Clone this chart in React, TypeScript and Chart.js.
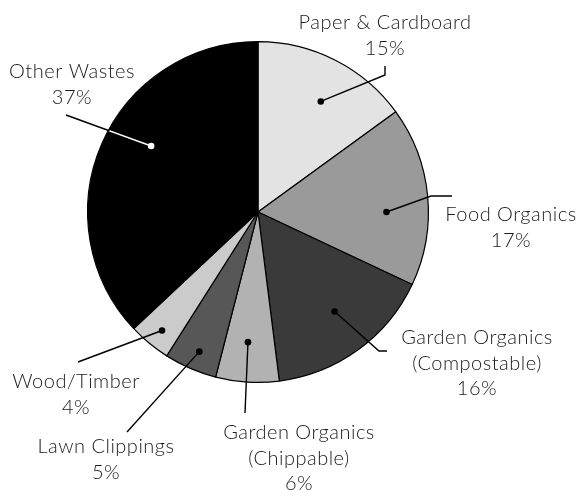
import React, { useEffect, useRef } from "react";
import { Chart, registerables } from "chart.js";

Chart.register(...registerables);

const categories = [
  "Paper & Cardboard",
  "Food Organics",
  "Garden Organics (Compostable)",
  "Garden Organics (Chippable)",
  "Lawn Clippings",
  "Wood/Timber",
  "Other Wastes",
];
const labelLines = [
  ["Paper & Cardboard"],
  ["Food Organics"],
  ["Garden Organics", "(Compostable)"],
  ["Garden Organics", "(Chippable)"],
  ["Lawn Clippings"],
  ["Wood/Timber"],
  ["Other Wastes"],
];
const values = [15, 17, 16, 6, 5, 4, 37];
const colors = ["#e3e3e3", "#9a9a9a", "#3a3a3a", "#b2b2b2", "#575757", "#cbcbcb", "#000000"];

// Annotation layout (relative to pie centre): dot angle tweak (deg), dot radius fraction,
// leader path points, label centre and first line y.
const annot = [
  { da: 2.6, rf: 0.746, path: [[127, -137], [127, -146]], lx: 127, ly: -189 },
  { da: 5.4, rf: 0.754, path: [[173, -16], [194, -16]], lx: 253, ly: 3 },
  { da: -1.6, rf: 0.737, path: [[121, 139], [129, 139]], lx: 219, ly: 126 },
  { da: 0.8, rf: 0.766, path: [[-13, 201]], lx: 41, ly: 221 },
  { da: -0.6, rf: 0.889, path: [[-131, 220]], lx: -152, ly: 235 },
  { da: -0.6, rf: 0.895, path: [[-180, 150]], lx: -182, ly: 170 },
  { da: 8.3, rf: 0.737, path: [[-192, -97]], lx: -186, ly: -140 },
];

const FONT = "300 20px Lato, 'Noto Sans', sans-serif";

const labelPlugin = {
  id: "leaderLabels",
  afterDraw(chart: any) {
    const ctx = chart.ctx;
    const meta = chart.getDatasetMeta(0);
    const total = values.reduce((a, b) => a + b, 0);
    meta.data.forEach((arc: any, i: number) => {
      const { x: cx, y: cy, outerRadius, startAngle, endAngle } = arc.getProps(
        ["x", "y", "outerRadius", "startAngle", "endAngle"],
        true
      );
      const a = annot[i];
      const mid = (startAngle + endAngle) / 2 + (a.da * Math.PI) / 180;
      const dx = cx + Math.cos(mid) * outerRadius * a.rf;
      const dy = cy + Math.sin(mid) * outerRadius * a.rf;
      const pts = [[dx, dy], ...a.path.map((p) => [cx + p[0], cy + p[1]])];
      const isDark = i === 6;
      ctx.save();
      ctx.lineWidth = 1.4;
      ctx.strokeStyle = "#000";
      ctx.beginPath();
      ctx.moveTo(pts[0][0], pts[0][1]);
      for (let k = 1; k < pts.length; k++) ctx.lineTo(pts[k][0], pts[k][1]);
      ctx.stroke();
      if (isDark) {
        ctx.save();
        ctx.beginPath();
        ctx.arc(cx, cy, outerRadius - 1, 0, Math.PI * 2);
        ctx.clip();
        ctx.strokeStyle = "#fff";
        ctx.beginPath();
        ctx.moveTo(pts[0][0], pts[0][1]);
        for (let k = 1; k < pts.length; k++) ctx.lineTo(pts[k][0], pts[k][1]);
        ctx.stroke();
        ctx.restore();
      }
      ctx.beginPath();
      ctx.arc(dx, dy, 3.3, 0, Math.PI * 2);
      ctx.fillStyle = isDark ? "#fff" : "#000";
      ctx.fill();
      ctx.font = FONT;
      (ctx as any).letterSpacing = "0.5px";
      ctx.fillStyle = "#1a1a1a";
      ctx.textAlign = "center";
      ctx.textBaseline = "middle";
      const lines = [...labelLines[i], Math.round((values[i] / total) * 100) + "%"];
      lines.forEach((t, k) => {
        ctx.fillText(t, cx + a.lx, cy + a.ly + k * 25.5);
      });
      ctx.restore();
    });
  },
};

export default function App() {
  const ref = useRef<HTMLCanvasElement>(null);
  useEffect(() => {
    document.body.style.margin = "0";
    const chart = new Chart(ref.current!, {
      type: "pie",
      data: {
        labels: categories,
        datasets: [
          {
            data: values,
            backgroundColor: colors,
            borderColor: "#000",
            borderWidth: 1.2,
          },
        ],
      },
      options: {
        animation: false,
        responsive: false,
        layout: { padding: { top: 41, bottom: 107, left: 87, right: 156 } },
        plugins: { legend: { display: false }, tooltip: { enabled: false } },
      },
      plugins: [labelPlugin],
    });
    return () => chart.destroy();
  }, []);
  return (
    <div style={{ width: 585, height: 490, background: "#fff" }}>
      <canvas ref={ref} width={585} height={490} />
    </div>
  );
}
